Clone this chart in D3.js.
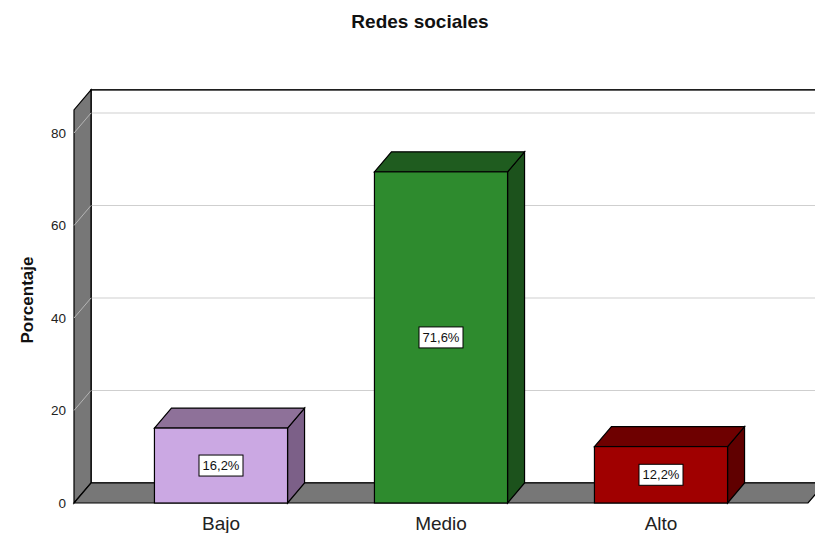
<!DOCTYPE html>
<html>
<head>
<meta charset="utf-8">
<script src="https://cdn.jsdelivr.net/npm/d3@7"></script>
<style>
  body { margin: 0; background: #fff; }
  text { font-family: "Liberation Sans", Arial, sans-serif; }
</style>
</head>
<body>
<div class="chart"></div>
<script>
// data
var categories = ["Bajo", "Medio", "Alto"];
var percents = [16.2, 71.6, 12.2];
var pctLabels = ["16,2%", "71,6%", "12,2%"];
var yTicks = [0, 20, 40, 60, 80];
var frontColors = ["#cba8e3", "#2e8b2e", "#a00000"];
var topColors = ["#8e7199", "#1f5c1f", "#6e0000"];
var sideColors = ["#7c6088", "#1c521c", "#600000"];

var W = 815, H = 533;
var depth = { dx: 17, dy: -20 };
var yMax = 85;

var svg = d3.select(".chart").append("svg")
  .attr("width", W)
  .attr("height", H);

var y = d3.scaleLinear().domain([0, 80]).range([503, 133]);
var x = d3.scaleBand().domain(categories)
  .range([111, 771])
  .paddingInner(0.395)
  .paddingOuter(0.1975);

var wallL = 74, wallR = 808;

// back wall
svg.append("rect")
  .attr("x", wallL + depth.dx)
  .attr("y", y(yMax) + depth.dy)
  .attr("width", W)
  .attr("height", y(0) - y(yMax))
  .attr("fill", "#fff")
  .attr("stroke", "#000")
  .attr("stroke-width", 1.5);

// grid lines on back wall
svg.selectAll(".grid")
  .data(yTicks.slice(1))
  .enter().append("line")
  .attr("x1", wallL + depth.dx)
  .attr("x2", W + 20)
  .attr("y1", d => y(d) + depth.dy)
  .attr("y2", d => y(d) + depth.dy)
  .attr("stroke", "#cfcfcf")
  .attr("stroke-width", 1);

// side wall
svg.append("polygon")
  .attr("points", [
    [wallL, y(0)], [wallL, y(yMax)],
    [wallL + depth.dx, y(yMax) + depth.dy], [wallL + depth.dx, y(0) + depth.dy]
  ].join(" "))
  .attr("fill", "#777")
  .attr("stroke", "#000")
  .attr("stroke-width", 1.2);

// grid lines on side wall
svg.selectAll(".sgrid")
  .data(yTicks.slice(1))
  .enter().append("line")
  .attr("x1", wallL)
  .attr("x2", wallL + depth.dx)
  .attr("y1", d => y(d))
  .attr("y2", d => y(d) + depth.dy)
  .attr("stroke", "#b5b5b5")
  .attr("stroke-width", 1);

// floor
svg.append("polygon")
  .attr("points", [
    [wallL, y(0)], [wallL + depth.dx, y(0) + depth.dy],
    [wallR + depth.dx, y(0) + depth.dy], [wallR, y(0)]
  ].join(" "))
  .attr("fill", "#777")
  .attr("stroke", "#000")
  .attr("stroke-width", 1.2);

// y tick labels
svg.selectAll(".tick")
  .data(yTicks)
  .enter().append("text")
  .attr("x", 66)
  .attr("y", d => y(d))
  .attr("dy", "0.35em")
  .attr("text-anchor", "end")
  .attr("font-size", "13.5px")
  .attr("fill", "#222")
  .text(d => d);

// y axis title
svg.append("text")
  .attr("transform", "translate(33,300) rotate(-90)")
  .attr("text-anchor", "middle")
  .attr("font-size", "17px")
  .attr("font-weight", "bold")
  .attr("fill", "#111")
  .text("Porcentaje");

// title
svg.append("text")
  .attr("x", 420)
  .attr("y", 28)
  .attr("text-anchor", "middle")
  .attr("font-size", "19px")
  .attr("font-weight", "bold")
  .attr("fill", "#111")
  .text("Redes sociales");

// bars
var bars = svg.selectAll(".bar")
  .data(categories)
  .enter().append("g")
  .attr("class", "bar");

bars.each(function (c, i) {
  var g = d3.select(this);
  var x0 = x(c), w = x.bandwidth();
  var yt = y(percents[i]), yb = y(0);
  // side
  g.append("polygon")
    .attr("points", [
      [x0 + w, yt], [x0 + w + depth.dx, yt + depth.dy],
      [x0 + w + depth.dx, yb + depth.dy], [x0 + w, yb]
    ].join(" "))
    .attr("fill", sideColors[i])
    .attr("stroke", "#000")
    .attr("stroke-width", 1.2);
  // top
  g.append("polygon")
    .attr("points", [
      [x0, yt], [x0 + depth.dx, yt + depth.dy],
      [x0 + w + depth.dx, yt + depth.dy], [x0 + w, yt]
    ].join(" "))
    .attr("fill", topColors[i])
    .attr("stroke", "#000")
    .attr("stroke-width", 1.2);
  // front
  g.append("rect")
    .attr("x", x0)
    .attr("y", yt)
    .attr("width", w)
    .attr("height", yb - yt)
    .attr("fill", frontColors[i])
    .attr("stroke", "#000")
    .attr("stroke-width", 1.2);

  // value label
  var cx = x0 + w / 2, cy = (yt + yb) / 2;
  g.append("rect")
    .attr("x", cx - 22)
    .attr("y", cy - 10.5)
    .attr("width", 44)
    .attr("height", 21)
    .attr("fill", "#fff")
    .attr("stroke", "#000")
    .attr("stroke-width", 1);
  g.append("text")
    .attr("x", cx)
    .attr("y", cy)
    .attr("dy", "0.36em")
    .attr("text-anchor", "middle")
    .attr("font-size", "13px")
    .attr("fill", "#111")
    .text(pctLabels[i]);
});

// category labels
svg.selectAll(".cat")
  .data(categories)
  .enter().append("text")
  .attr("x", d => x(d) + x.bandwidth() / 2)
  .attr("y", 530)
  .attr("text-anchor", "middle")
  .attr("font-size", "19px")
  .attr("fill", "#222")
  .text(d => d);
</script>
</body>
</html>
